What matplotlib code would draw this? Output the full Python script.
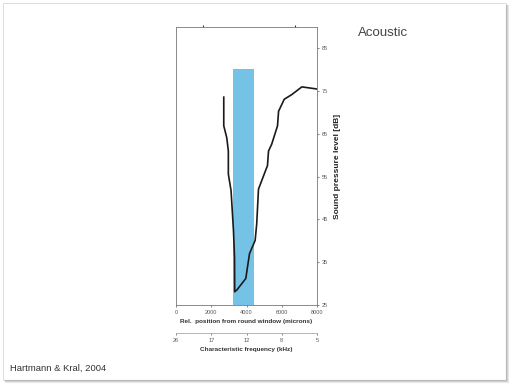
import matplotlib
matplotlib.use("Agg")
import matplotlib.pyplot as plt
from matplotlib.patches import Rectangle
from matplotlib.lines import Line2D

plt.rcParams['font.family'] = ['Liberation Sans', 'DejaVu Sans']

# threshold curve (position in microns, level in dB)
pos = [2710, 2710, 2880, 2970, 2970, 3125, 3260, 3320, 3330, 3450, 3960, 4170,
       4490, 4580, 4680, 5190, 5250, 5430, 5760, 5820, 6140, 6570, 7140, 8000]
level = [73.6, 66.9, 64.1, 61.0, 55.6, 51.7, 42.4, 36.2, 28.1, 28.5, 31.2, 37.0,
         40.1, 44.0, 52.1, 57.6, 61.0, 62.6, 66.9, 70.3, 73.1, 74.2, 76.0, 75.5]

# stimulated region
band_lo = 3220
band_hi = 4415
band_top = 80.2

pos_ticks = [0, 2000, 4000, 6000, 8000]
freq_labels = ["26", "17", "12", "8", "5"]
spl_ticks = [25, 35, 45, 55, 65, 75, 85]

W, H = 512, 384
fig = plt.figure(figsize=(W / 100, H / 100), dpi=100)

# slide frame, shadow on the right and bottom
fig.add_artist(Rectangle((2.5 / W, 1 - 379.5 / H), 503 / W, 377 / H,
                         transform=fig.transFigure, fill=False,
                         edgecolor="#d8d8d8", lw=0.6))
for k, c in enumerate(["#b8b8b8", "#d0d0d0", "#e8e8e8"]):
    x = (506 + k) / W
    y = 1 - (380 + k) / H
    fig.add_artist(Line2D([x, x], [y, 1 - 5 / H], transform=fig.transFigure,
                          color=c, lw=0.8))
    fig.add_artist(Line2D([5 / W, x], [y, y], transform=fig.transFigure,
                          color=c, lw=0.8))

ax = fig.add_axes([176 / W, 1 - 305 / H, 141 / W, 278 / H])
ax.bar((band_lo + band_hi) / 2, band_top - 25, width=band_hi - band_lo,
       bottom=25, color="#74c3e6", zorder=1)
ax.plot(pos, level, color="#1a1a1a", lw=1.2, zorder=2)
ax.set_xlim(0, 8000)
ax.set_ylim(25, 90)
ax.set_xticks(pos_ticks)
ax.set_xticklabels([str(t) for t in pos_ticks])
ax.yaxis.tick_right()
ax.yaxis.set_label_position("right")
ax.set_yticks(spl_ticks)
ax.tick_params(labelsize=4, colors="#555555", length=1.5, width=0.5, pad=2)
ax.set_xticks([1530, 6760], minor=True)
ax.tick_params(which="minor", top=True, bottom=False, length=1.5, width=0.8,
               direction="out", colors="#333333")
for s in ax.spines.values():
    s.set_color("#777777")
    s.set_linewidth(0.6)
ax.set_xlabel("Rel.  position from round window (microns)", fontsize=4.6,
              fontweight="bold", color="#333333", labelpad=3)
ax.set_ylabel("Sound pressure level [dB]", fontsize=6, fontweight="bold",
              color="#222222", labelpad=4)

# second scale: characteristic frequency
ax2 = fig.add_axes([176 / W, 1 - 333 / H, 141 / W, 0.0001])
ax2.set_xlim(0, 8000)
ax2.set_yticks([])
for k in ["left", "right", "top"]:
    ax2.spines[k].set_visible(False)
ax2.spines["bottom"].set_color("#aaaaaa")
ax2.spines["bottom"].set_linewidth(0.6)
ax2.set_xticks(pos_ticks)
ax2.set_xticklabels(freq_labels)
ax2.tick_params(labelsize=4, colors="#555555", length=1.5, width=0.5, pad=2)
ax2.set_xlabel("Characteristic frequency (kHz)", fontsize=4.6,
               fontweight="bold", color="#333333", labelpad=3)

fig.text(358 / W, 1 - 33 / H, "Acoustic", fontsize=9.5, color="#444444",
         va="center", ha="left")
fig.text(10 / W, 1 - 368 / H, "Hartmann & Kral, 2004", fontsize=6.8,
         color="#333333", va="center", ha="left")

fig.savefig("out.png", dpi=100, facecolor="white")
